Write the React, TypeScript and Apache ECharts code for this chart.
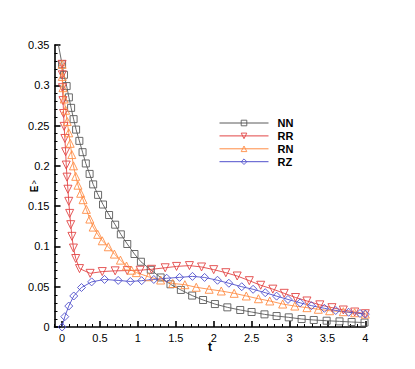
import React, { useEffect, useRef } from "react";
import * as echarts from "echarts";

const seriesNames = ["NN", "RR", "RN", "RZ"];

const nnData: number[][] = [
  [-0.05, 0.351], [0, 0.326], [0.025, 0.313], [0.06, 0.299], [0.09, 0.285], [0.119, 0.272],
  [0.152, 0.258], [0.185, 0.245], [0.228, 0.231], [0.27, 0.217], [0.313, 0.203],
  [0.363, 0.19], [0.41, 0.177], [0.475, 0.164], [0.54, 0.152], [0.62, 0.139],
  [0.7, 0.127], [0.775, 0.115], [0.86, 0.103], [0.955, 0.0906], [1.04, 0.081],
  [1.17, 0.071], [1.3, 0.0615], [1.43, 0.053], [1.567, 0.046], [1.716, 0.039],
  [1.86, 0.0335], [2.016, 0.0285], [2.18, 0.0244], [2.35, 0.0211], [2.5, 0.0186],
  [2.67, 0.0157], [2.83, 0.0136], [2.99, 0.012], [3.16, 0.0099], [3.32, 0.0087],
  [3.49, 0.0078], [3.66, 0.007], [3.82, 0.0062], [3.99, 0.0055],
];

const rrData: number[][] = [
  [0, 0.326], [0.003, 0.313], [0.005, 0.297], [0.012, 0.281], [0.02, 0.265],
  [0.027, 0.249], [0.037, 0.234], [0.047, 0.2175], [0.055, 0.201], [0.065, 0.186],
  [0.077, 0.171], [0.088, 0.156], [0.1, 0.141], [0.114, 0.127], [0.13, 0.1125],
  [0.15, 0.098], [0.18, 0.085], [0.23, 0.0725], [0.37, 0.0666], [0.53, 0.0688],
  [0.7, 0.0697], [0.86, 0.07], [1.03, 0.0705], [1.18, 0.0716], [1.36, 0.0735],
  [1.51, 0.0752], [1.68, 0.0762], [1.84, 0.0745], [2.0, 0.0712], [2.16, 0.0674],
  [2.31, 0.0633], [2.47, 0.0575], [2.62, 0.0518], [2.78, 0.047], [2.93, 0.0418],
  [3.08, 0.0366], [3.23, 0.0323], [3.4, 0.0275], [3.56, 0.024], [3.71, 0.0211],
  [3.86, 0.0186], [4.0, 0.0165],
];

const rnData: number[][] = [
  [0, 0.326], [0.003, 0.311], [0.012, 0.297], [0.028, 0.283], [0.047, 0.269],
  [0.068, 0.255], [0.088, 0.241], [0.107, 0.228], [0.128, 0.214], [0.15, 0.2],
  [0.18, 0.187], [0.21, 0.176], [0.245, 0.166], [0.277, 0.158], [0.32, 0.146],
  [0.366, 0.134], [0.41, 0.124], [0.47, 0.115], [0.53, 0.107], [0.61, 0.0996],
  [0.69, 0.0905], [0.77, 0.083], [0.85, 0.0757], [0.916, 0.0705], [0.98, 0.0675],
  [1.14, 0.0624], [1.3, 0.0583], [1.46, 0.054], [1.62, 0.0525], [1.77, 0.0493],
  [1.94, 0.0468], [2.1, 0.0447], [2.27, 0.0418], [2.43, 0.0385], [2.59, 0.0351],
  [2.74, 0.0323], [2.91, 0.0285], [3.07, 0.026], [3.23, 0.024], [3.38, 0.022],
  [3.53, 0.0202], [3.71, 0.019], [3.86, 0.0177], [4.0, 0.016],
];

const rzData: number[][] = [
  [0, 0], [0.036, 0.0128], [0.088, 0.026], [0.154, 0.0385], [0.256, 0.049],
  [0.39, 0.056], [0.56, 0.059], [0.74, 0.0578], [0.9, 0.0565], [1.05, 0.0575],
  [1.21, 0.059], [1.38, 0.0605], [1.55, 0.0616], [1.72, 0.0628], [1.88, 0.0615],
  [2.05, 0.058], [2.2, 0.0543], [2.37, 0.05], [2.52, 0.0468], [2.68, 0.0426],
  [2.83, 0.0383], [2.98, 0.0342], [3.14, 0.03], [3.29, 0.0265], [3.46, 0.0232],
  [3.61, 0.0205], [3.78, 0.0183], [3.93, 0.0168], [4.0, 0.016],
];

const xMajorTicks = [0, 0.5, 1, 1.5, 2, 2.5, 3, 3.5, 4];
const xMinorTicks = [
  -0.1, 0.1, 0.2, 0.3, 0.4, 0.6, 0.7, 0.8, 0.9, 1.1, 1.2, 1.3, 1.4, 1.6, 1.7, 1.8, 1.9,
  2.1, 2.2, 2.3, 2.4, 2.6, 2.7, 2.8, 2.9, 3.1, 3.2, 3.3, 3.4, 3.6, 3.7, 3.8, 3.9,
];

const colors = ["#5a5a5a", "#e24545", "#ff8c45", "#5050cc"];
const symbols = ["rect", "triangle", "triangle", "diamond"];
const symbolRotates = [0, 180, 0, 0];
const symbolSizes = [7, 8, 8, 8];
const allData = [nnData, rrData, rnData, rzData];

const FONT = "'Liberation Sans', Arial, Helvetica, sans-serif";

export default function App() {
  const ref = useRef<HTMLDivElement>(null);
  useEffect(() => {
    if (!ref.current) return;
    const chart = echarts.init(ref.current, null, { renderer: "svg" });
    const series = seriesNames.map((name, i) => ({
      name,
      type: "line",
      xAxisIndex: 0,
      yAxisIndex: 0,
      clip: true,
      symbol: symbols[i],
      symbolSize: symbolSizes[i],
      symbolRotate: symbolRotates[i],
      showAllSymbol: true,
      lineStyle: { color: colors[i], width: 0.9 },
      itemStyle: { color: "rgba(255,255,255,0)", borderColor: colors[i], borderWidth: 0.9 },
      data: allData[i].map((p, j) =>
        i === 0 && j === 0 ? { value: p, symbol: "none" } : p
      ),
    }));
    chart.setOption({
      animation: false,
      backgroundColor: "#ffffff",
      textStyle: { fontFamily: FONT },
      grid: { left: 54.5, top: 45, width: 310.8, height: 282, containLabel: false },
      legend: {
        orient: "vertical",
        left: 219,
        top: 117.5,
        padding: 0,
        itemWidth: 49,
        itemHeight: 7,
        itemGap: 1.9,
        data: seriesNames,
        lineStyle: { width: 1 },
        itemStyle: { borderWidth: 0.9 },
        textStyle: { color: "#000", fontWeight: "bold", fontSize: 11, fontFamily: FONT, padding: [0, 0, 0, 4] },
      },
      xAxis: [
        {
          type: "value",
          min: -0.1,
          max: 4,
          axisLine: { show: true, onZero: false, lineStyle: { color: "#000", width: 1.6 } },
          axisTick: { show: true, inside: true, length: 6, lineStyle: { color: "#000", width: 1.6 }, customValues: xMajorTicks },
          axisLabel: { show: true, color: "#000", fontSize: 11, fontFamily: FONT, margin: 5, customValues: xMajorTicks },
          splitLine: { show: false },
        },
        {
          type: "value",
          min: -0.1,
          max: 4,
          position: "bottom",
          offset: 0,
          axisLine: { show: false, onZero: false },
          axisTick: { show: true, inside: true, length: 3, lineStyle: { color: "#000", width: 1 }, customValues: xMinorTicks },
          axisLabel: { show: false },
          splitLine: { show: false },
        },
      ],
      yAxis: {
        type: "value",
        min: 0,
        max: 0.35,
        interval: 0.05,
        axisLine: { show: true, onZero: false, lineStyle: { color: "#000", width: 1.6 } },
        axisTick: { show: true, inside: true, length: 6, lineStyle: { color: "#000", width: 1.6 } },
        minorTick: { show: true, splitNumber: 5, length: 3, lineStyle: { color: "#000", width: 1 } },
        axisLabel: { color: "#000", fontSize: 11, fontFamily: FONT, margin: 5 },
        splitLine: { show: false },
        minorSplitLine: { show: false },
      },
      graphic: [
        {
          type: "text",
          x: 210,
          y: 347,
          style: { text: "t", fill: "#000", font: `bold 12px ${FONT}`, align: "center", verticalAlign: "middle" },
        },
        {
          type: "text",
          x: 34,
          y: 189,
          rotation: Math.PI / 2,
          style: { text: "E", fill: "#000", font: `bold 10px ${FONT}`, align: "center", verticalAlign: "middle" },
        },
        {
          type: "text",
          x: 34,
          y: 183.5,
          style: { text: "^", fill: "#000", font: `9px ${FONT}`, align: "center", verticalAlign: "middle" },
        },
      ],
      series,
    });
    return () => chart.dispose();
  }, []);
  return (
    <div
      ref={ref}
      style={{ position: "fixed", left: 0, top: 0, width: 415, height: 369, background: "#fff" }}
    />
  );
}
